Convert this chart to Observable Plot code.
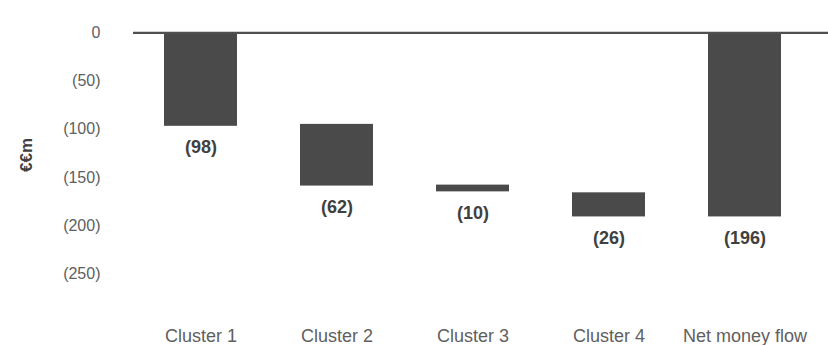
<!DOCTYPE html>
<html>
<head>
<meta charset="utf-8">
<script src="https://cdn.jsdelivr.net/npm/d3@7"></script>
<script src="https://cdn.jsdelivr.net/npm/@observablehq/plot@0.6"></script>
<style>
  html, body { margin: 0; padding: 0; background: #fff; }
  #chart { width: 828px; height: 345px; }
</style>
</head>
<body>
<div id="chart"></div>
<script>
const categories = ["Cluster 1", "Cluster 2", "Cluster 3", "Cluster 4", "Net money flow"];
const barStart = [0, -95, -158, -166, 0];
const barEnd = [-97, -159, -165, -191, -191];
const valueLabels = ["(98)", "(62)", "(10)", "(26)", "(196)"];
const yTicks = [0, -50, -100, -150, -200, -250];
const yTitle = "€€m";

const data = categories.map((c, i) => ({cat: c, start: barStart[i], end: barEnd[i], label: valueLabels[i]}));

const chart = Plot.plot({
  width: 828,
  height: 345,
  marginTop: 32,
  marginBottom: 24,
  marginLeft: 133,
  marginRight: 0,
  style: {fontFamily: "'Liberation Sans', Arial, sans-serif", background: "#fff", color: "#606060"},
  x: {domain: categories, range: [133, 813], paddingInner: 0.463, paddingOuter: 0.2315, axis: null},
  y: {domain: [-300, 0], range: [321.5, 32.3], axis: null},
  marks: [
    Plot.barY(data, {x: "cat", y1: "start", y2: "end", fill: "#4a4a4a"}),
    Plot.ruleY([0], {stroke: "#505050", strokeWidth: 2.2}),
    Plot.axisY({ticks: yTicks, tickSize: 0, tickPadding: 33, label: null, fontSize: 16,
      tickFormat: d => d === 0 ? "0" : `(${-d})`}),
    Plot.axisX({tickSize: 0, tickPadding: 8, label: null, fontSize: 18}),
    Plot.text(data, {x: "cat", y: "end", text: "label", dy: 21, fontWeight: "bold", fontSize: 18, fill: "#404040", lineAnchor: "middle"}),
    Plot.text([yTitle], {frameAnchor: "left", dx: -107, dy: -5, rotate: -90, fontWeight: "bold", fontSize: 17, fill: "#404040", letterSpacing: "-2px"})
  ]
});
document.getElementById("chart").appendChild(chart);
</script>
</body>
</html>
